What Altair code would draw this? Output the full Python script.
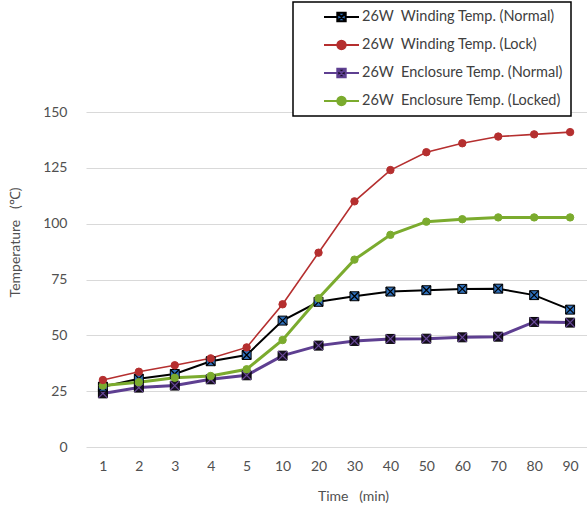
import math
import altair as alt
import pandas as pd

# ---------------- data ----------------
times = ["1", "2", "3", "4", "5", "10", "20", "30", "40", "50", "60", "70", "80", "90"]
series_names = [
    "26W\u00a0 Winding Temp. (Normal)",
    "26W\u00a0 Winding Temp. (Lock)",
    "26W\u00a0 Enclosure Temp. (Normal)",
    "26W\u00a0 Enclosure Temp. (Locked)",
]
wind_normal = [27, 30.6, 32.7, 38.4, 41.2, 56.6, 65, 67.5, 69.6, 70.2, 70.8, 70.9, 68, 61.5]
wind_lock = [30, 33.7, 36.6, 39.7, 44.6, 63.9, 87, 110, 124, 132, 136, 139, 140, 141]
encl_normal = [24, 26.6, 27.5, 30.3, 32.1, 40.9, 45.4, 47.5, 48.4, 48.5, 49.1, 49.4, 56, 55.7]
encl_locked = [27.5, 29, 31, 31.8, 34.8, 47.9, 66.6, 83.9, 95, 100.9, 102, 102.8, 102.8, 102.8]
y_ticks = [0, 25, 50, 75, 100, 125, 150]

rows = []
for name, vals in zip(series_names, [wind_normal, wind_lock, encl_normal, encl_locked]):
    for t, v in zip(times, vals):
        rows.append({"time": t, "temp": v, "series": name})
df = pd.DataFrame(rows)

# ---------------- styles ----------------
line_colors = ["#000000", "#b52f2f", "#5e3f91", "#7bab2e"]
fill_colors = ["#2e6fba", "#b52f2f", "#1a1028", "#7bab2e"]
edge_colors = ["#000000", "#b52f2f", "#000000", "#7bab2e"]
cross_colors = ["#000000", None, "#6a4a9a", None]
line_widths = [2, 1.6, 3, 3]
marker_kind = ["square", "circle", "square", "circle"]

stroke_scale = alt.Scale(domain=series_names, range=line_colors)
fill_scale = alt.Scale(domain=series_names, range=fill_colors)

# legend symbol paths (line + marker)
r = 0.24
sq_path = (f"M-1,0H-{r}M{r},0H1"
           f"M-{r},-{r}H{r}V{r}H-{r}Z"
           f"M-{r},-{r}L{r},{r}M-{r},{r}L{r},-{r}")
pts = []
for i in range(16):
    a = 2 * math.pi * i / 16
    pts.append(f"{r * math.cos(a):.3f},{r * math.sin(a):.3f}")
circ_path = f"M-1,0H-{r}M{r},0H1" + "M" + "L".join(pts) + "Z"
legend_shapes = [sq_path, circ_path, sq_path, circ_path]
shape_scale = alt.Scale(domain=series_names, range=legend_shapes)

x_enc = alt.X(
    "time:N",
    sort=times,
    scale=alt.Scale(type="point", padding=0.47),
    axis=alt.Axis(
        title="Time\u00a0\u00a0 (min)",
        labelAngle=0,
        ticks=False,
        tickSize=0,
        domain=False,
        grid=False,
        labelPadding=12,
        titleX=267,
        titleY=49,
        titleBaseline="middle",
    ),
)
y_enc = alt.Y(
    "temp:Q",
    scale=alt.Scale(domain=[0, 150], nice=False),
    axis=alt.Axis(
        title="Temperature\u00a0\u00a0 (\u2103)",
        values=y_ticks,
        ticks=False,
        tickSize=0,
        domain=False,
        grid=True,
        labelPadding=19,
        titleX=-71,
        titleY=130,
        titleBaseline="middle",
    ),
)

base = alt.Chart(df)

line_order = [2, 0, 3, 1]
line_layers = []
for i in line_order:
    line_layers.append(
        base.transform_filter(alt.datum.series == series_names[i])
        .mark_line(color=line_colors[i], strokeWidth=line_widths[i])
        .encode(x=x_enc, y=y_enc)
    )

marker_layers = []
for i in line_order:
    sub = base.transform_filter(alt.datum.series == series_names[i])
    if marker_kind[i] == "square":
        marker_layers.append(
            sub.mark_point(shape="square", filled=True, size=80, fill=fill_colors[i],
                           stroke=edge_colors[i], strokeWidth=1, opacity=1)
            .encode(x=x_enc, y=y_enc)
        )
        marker_layers.append(
            sub.mark_point(shape="M-1,-1L1,1M-1,1L1,-1", filled=False, size=80,
                           stroke=cross_colors[i], strokeWidth=1.2, opacity=1)
            .encode(x=x_enc, y=y_enc)
        )
    else:
        marker_layers.append(
            sub.mark_point(shape="circle", filled=True, size=55, fill=fill_colors[i],
                           stroke=edge_colors[i], strokeWidth=1, opacity=1)
            .encode(x=x_enc, y=y_enc)
        )

label_expr = "datum.label + '" + "\u00a0" * 9 + "'"
legend_src = base.mark_point(strokeWidth=2).encode(
    x=x_enc,
    y=y_enc,
    shape=alt.Shape("series:N", scale=shape_scale, legend=alt.Legend(title=None, labelExpr=label_expr)),
    fill=alt.Fill("series:N", scale=fill_scale, legend=alt.Legend(title=None, labelExpr=label_expr)),
    stroke=alt.Stroke("series:N", scale=stroke_scale, legend=alt.Legend(title=None, labelExpr=label_expr)),
).transform_filter("false")

chart = alt.layer(*line_layers, *marker_layers, legend_src).properties(
    width=501,
    height=335,
    autosize=alt.AutoSizeParams(type="none"),
    padding={"left": 86, "top": 112, "right": 0, "bottom": 64},
).configure_view(
    stroke=None
).configure_axis(
    labelFont="Lato",
    labelFontSize=14,
    labelColor="#505050",
    titleFont="Lato",
    titleFontSize=14,
    titleColor="#505050",
    titleFontWeight="normal",
    gridColor="#d9d9d9",
    gridWidth=1,
).configure_legend(
    orient="none",
    legendX=207,
    legendY=-110,
    padding=8,
    strokeColor="#000000",
    strokeWidth=1.5,
    fillColor="#ffffff",
    clipHeight=14,
    rowPadding=13,
    symbolSize=1225,
    symbolOffset=22,
    labelOffset=2,
    labelFont="Lato",
    labelFontSize=14.5,
    labelColor="#404040",
    labelLimit=400,
    symbolStrokeWidth=2,
    symbolOpacity=1,
)

chart.save("out.html", embed_options={"renderer": "svg", "actions": False})
